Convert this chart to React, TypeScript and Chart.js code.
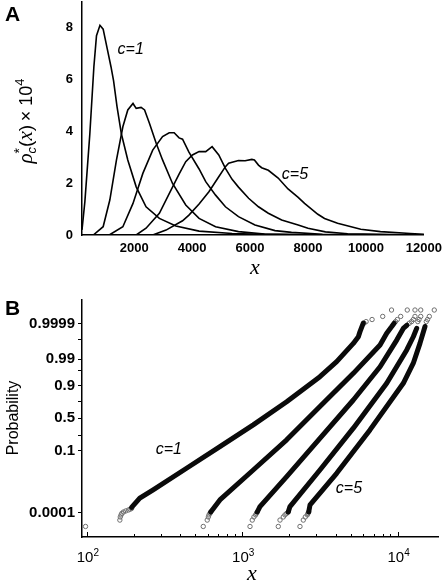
import React, { useEffect, useRef } from "react";
import { Chart, registerables } from "chart.js";

Chart.register(...registerables);

// ---------- Panel A: density curves rho*_c(x) x 10^4 ----------
const aXTicks = [2000, 4000, 6000, 8000, 10000, 12000];
const aYTicks = [0, 2, 4, 6, 8];

const c1X = [200, 300, 470, 610, 700, 820, 930, 1070, 1200, 1290, 1410, 1560, 1780, 2070, 2410, 2870, 3440, 4240, 5380, 6500, 8000, 10000, 12000];
const c1Y = [0.2, 1.3, 3.9, 6.5, 7.7, 8.1, 7.95, 7.2, 6.5, 5.95, 4.95, 3.9, 2.9, 1.86, 1.09, 0.64, 0.35, 0.15, 0.06, 0.03, 0.01, 0, 0];

const c2X = [590, 930, 1160, 1390, 1610, 1780, 1960, 2070, 2240, 2360, 2530, 2760, 2980, 3320, 3780, 4240, 4810, 5600, 6500, 8000, 12000];
const c2Y = [0, 0.32, 1.35, 2.9, 4.18, 4.83, 5.08, 4.89, 4.93, 4.83, 4.31, 3.54, 2.9, 2.0, 1.16, 0.64, 0.32, 0.13, 0.04, 0.01, 0];

const c3X = [1140, 1610, 1960, 2300, 2640, 2980, 3210, 3380, 3550, 3670, 3890, 4240, 4470, 4810, 5150, 5600, 6170, 6860, 7430, 8500, 12000];
const c3Y = [0, 0.32, 1.22, 2.38, 3.28, 3.8, 3.95, 3.95, 3.75, 3.7, 3.2, 2.55, 2.06, 1.54, 1.09, 0.71, 0.39, 0.17, 0.1, 0.03, 0];

const c4X = [2070, 2410, 2870, 3210, 3550, 3780, 4010, 4240, 4470, 4690, 4920, 5150, 5380, 5600, 5950, 6290, 6630, 7090, 7660, 8000, 8600, 9370, 12000];
const c4Y = [0, 0.26, 0.84, 1.6, 2.35, 2.83, 3.09, 3.22, 3.22, 3.41, 3.09, 2.57, 2.15, 1.85, 1.42, 1.09, 0.84, 0.58, 0.39, 0.26, 0.12, 0.05, 0];

const c5X = [2640, 3100, 3670, 3890, 4240, 4580, 4920, 5150, 5260, 5600, 5830, 6060, 6150, 6290, 6400, 6630, 6970, 7310, 7660, 7880, 8340, 8570, 9020, 9820, 10500, 11530, 12000];
const c5Y = [0, 0.19, 0.55, 0.77, 1.2, 1.67, 2.25, 2.64, 2.77, 2.88, 2.87, 2.92, 2.9, 2.7, 2.6, 2.5, 2.2, 1.78, 1.45, 1.22, 0.8, 0.64, 0.45, 0.22, 0.13, 0.06, 0.03];

// ---------- Panel B: probability plot (normal-probability y, log x) ----------
const bProbLabels = [0.0001, 0.1, 0.5, 0.9, 0.99, 0.9999];
const bProbMinor = [0.25, 0.75, 0.97, 0.999];
const bXTicks = [100, 1000, 10000];
const bXTickExp = ["2", "3", "4"];

const b1LineX = [194, 219, 267, 438, 718, 1177, 1932, 3162, 4053, 5188, 5590, 5728, 6012];
const b1LineP = [0.00022, 0.00082, 0.0024, 0.0244, 0.131, 0.397, 0.742, 0.9495, 0.9871, 0.99841, 0.99934, 0.99968, 0.99991];
const b1DotX = [98, 163, 164, 166, 168, 172, 178, 185, 190, 194, 6080, 6270, 6850, 8020, 9140];
const b1DotP = [0.00001, 0.00003, 0.00005, 0.00007, 0.00009, 0.00011, 0.00013, 0.00015, 0.00017, 0.00019, 0.99991, 0.99993, 0.99995, 0.99997, 0.99999];

const b2LineX = [627, 718, 1177, 1932, 3162, 5188, 7710, 8510, 9170, 9500];
const b2LineP = [0.00011, 0.00064, 0.0207, 0.198, 0.677, 0.9616, 0.99807, 0.9996, 0.99985, 0.99991];
const b2DotX = [561, 595, 605, 611, 620, 627, 9700, 9960, 10470, 11540];
const b2DotP = [0.00001, 0.00003, 0.00005, 0.00007, 0.00009, 0.00011, 0.99993, 0.99995, 0.99997, 0.99999];

const b3LineX = [1249, 1300, 1932, 3162, 5188, 7710, 9870, 10880, 11500];
const b3LineP = [0.00011, 0.00025, 0.0107, 0.215, 0.764, 0.9788, 0.99897, 0.9998, 0.99988];
const b3DotX = [1122, 1160, 1189, 1219, 1235, 1249, 11900, 12300, 12620, 12940, 12940];
const b3DotP = [0.00001, 0.00003, 0.00005, 0.00007, 0.00009, 0.00011, 0.99991, 0.99993, 0.99995, 0.99997, 0.99999];

const b4LineX = [1977, 2028, 3162, 5188, 8510, 11450, 12620, 13270];
const b4LineP = [0.00011, 0.00025, 0.0207, 0.348, 0.916, 0.99643, 0.99934, 0.9998];
const b4DotX = [1706, 1750, 1837, 1884, 1935, 1977, 13500, 13740, 14090, 14090];
const b4DotP = [0.00001, 0.00003, 0.00005, 0.00007, 0.00009, 0.00011, 0.99993, 0.99995, 0.99997, 0.99999];

const b5LineX = [2678, 2731, 4053, 6640, 10880, 12620, 13930, 15010];
const b5LineP = [0.00011, 0.00032, 0.015, 0.323, 0.916, 0.985, 0.99841, 0.99985];
const b5DotX = [2353, 2472, 2547, 2624, 2650, 2678, 15300, 15590, 16000, 17220];
const b5DotP = [0.00001, 0.00003, 0.00005, 0.00007, 0.00009, 0.00011, 0.99993, 0.99995, 0.99997, 0.99999];

// inverse standard normal CDF (Acklam)
function probit(p: number): number {
  const a = [-39.69683028665376, 220.9460984245205, -275.9285104469687, 138.357751867269, -30.66479806614716, 2.506628277459239];
  const b = [-54.47609879822406, 161.5858368580409, -155.6989798598866, 66.80131188771972, -13.28068155288572];
  const c = [-0.007784894002430293, -0.3223964580411365, -2.400758277161838, -2.549732539343734, 4.374664141464968, 2.938163982698783];
  const d = [0.007784695709041462, 0.3224671290700398, 2.445134137142996, 3.754408661907416];
  const pl = 0.02425;
  if (p < pl) {
    const q = Math.sqrt(-2 * Math.log(p));
    return (((((c[0] * q + c[1]) * q + c[2]) * q + c[3]) * q + c[4]) * q + c[5]) / ((((d[0] * q + d[1]) * q + d[2]) * q + d[3]) * q + 1);
  }
  if (p > 1 - pl) {
    const q = Math.sqrt(-2 * Math.log(1 - p));
    return -(((((c[0] * q + c[1]) * q + c[2]) * q + c[3]) * q + c[4]) * q + c[5]) / ((((d[0] * q + d[1]) * q + d[2]) * q + d[3]) * q + 1);
  }
  const q = p - 0.5;
  const r = q * q;
  return ((((((a[0] * r + a[1]) * r + a[2]) * r + a[3]) * r + a[4]) * r + a[5]) * q) / (((((b[0] * r + b[1]) * r + b[2]) * r + b[3]) * r + b[4]) * r + 1);
}

const SANS = '"Liberation Sans", Arial, sans-serif';
const SERIF = '"Liberation Serif", "Times New Roman", serif';

type Run = { text: string; font: string; dy?: number; stack?: boolean };

function drawRuns(ctx: CanvasRenderingContext2D, runs: Run[], cx: number, cy: number, rotated: boolean) {
  ctx.save();
  ctx.translate(cx, cy);
  if (rotated) ctx.rotate(-Math.PI / 2);
  ctx.fillStyle = "#000";
  ctx.textBaseline = "alphabetic";
  ctx.textAlign = "left";
  let total = 0;
  const widths = runs.map((r) => {
    ctx.font = r.font;
    const w = ctx.measureText(r.text).width;
    if (!r.stack) total += w;
    return w;
  });
  let x = -total / 2;
  runs.forEach((r, i) => {
    ctx.font = r.font;
    ctx.fillText(r.text, x, r.dy || 0);
    if (!r.stack) x += widths[i];
  });
  ctx.restore();
}

function drawText(ctx: CanvasRenderingContext2D, text: string, font: string, x: number, y: number, align: CanvasTextAlign = "center") {
  ctx.save();
  ctx.font = font;
  ctx.fillStyle = "#000";
  ctx.textAlign = align;
  ctx.textBaseline = "alphabetic";
  ctx.fillText(text, x, y);
  ctx.restore();
}

const lineA = (xs: number[], ys: number[]) => ({
  data: xs.map((x, i) => ({ x, y: ys[i] })),
  borderColor: "#000",
  borderWidth: 1.6,
  pointRadius: 0,
  tension: 0,
  fill: false,
});

const lineB = (xs: number[], ps: number[]) => ({
  data: xs.map((x, i) => ({ x, y: probit(ps[i]) })),
  borderColor: "#0a0a0a",
  borderWidth: 5,
  borderCapStyle: "round" as const,
  borderJoinStyle: "round" as const,
  pointRadius: 0,
  tension: 0,
  fill: false,
});

const dotsB = (xs: number[], ps: number[]) => ({
  data: xs.map((x, i) => ({ x, y: probit(ps[i]) })),
  showLine: false,
  pointRadius: 2.2,
  pointBorderWidth: 1,
  pointBorderColor: "#6e6e6e",
  pointBackgroundColor: "rgba(255,255,255,0)",
  borderColor: "#6e6e6e",
});

export default function App() {
  const refA = useRef<HTMLCanvasElement>(null);
  const refB = useRef<HTMLCanvasElement>(null);

  useEffect(() => {
    document.body.style.margin = "0";
    const axisTitleFont = `italic 22px ${SERIF}`;

    const plugA = {
      id: "decorA",
      afterDraw(chart: any) {
        const ctx = chart.ctx as CanvasRenderingContext2D;
        const xs = chart.scales.x;
        const ys = chart.scales.y;
        drawText(ctx, "A", `bold 21px ${SANS}`, 5, 21, "left");
        drawText(ctx, "x", axisTitleFont, 255, 274);
        drawText(ctx, "c=1", `italic 16px ${SANS}`, xs.getPixelForValue(1880), ys.getPixelForValue(6.98));
        drawText(ctx, "c=5", `italic 16px ${SANS}`, xs.getPixelForValue(7550), ys.getPixelForValue(2.17));
        drawRuns(
          ctx,
          [
            { text: "\u03C1", font: `italic 21px ${SERIF}` },
            { text: "*", font: `14px ${SANS}`, dy: -8, stack: true },
            { text: "c", font: `italic 13px ${SANS}`, dy: 4 },
            { text: "(", font: `19px ${SANS}` },
            { text: "x", font: `italic 21px ${SERIF}` },
            { text: ")", font: `19px ${SANS}` },
            { text: "\u2009\u00D7 10", font: `18px ${SANS}` },
            { text: "4", font: `13px ${SANS}`, dy: -8 },
          ],
          32,
          121,
          true
        );
      },
    };

    const chartA = new Chart(refA.current as HTMLCanvasElement, {
      type: "line",
      data: {
        datasets: [lineA(c1X, c1Y), lineA(c2X, c2Y), lineA(c3X, c3Y), lineA(c4X, c4Y), lineA(c5X, c5Y)] as any,
      },
      options: {
        responsive: false,
        animation: false,
        layout: { padding: { top: 2, right: 21, left: 0, bottom: 0 } },
        plugins: { legend: { display: false }, tooltip: { enabled: false } },
        scales: {
          x: {
            type: "linear",
            min: 200,
            max: 12000,
            afterBuildTicks: (s: any) => {
              s.ticks = aXTicks.map((v) => ({ value: v }));
            },
            afterFit: (s: any) => {
              s.height = 45;
            },
            grid: { display: false, drawTicks: false },
            border: { display: true, color: "#000", width: 1.5 },
            ticks: {
              color: "#000",
              font: { family: SANS, size: 13, weight: "bold" },
              padding: 6,
              maxRotation: 0,
              autoSkip: false,
              callback: (v: any) => String(v),
            },
          },
          y: {
            type: "linear",
            min: 0,
            max: 9,
            afterBuildTicks: (s: any) => {
              s.ticks = aYTicks.map((v) => ({ value: v }));
            },
            afterFit: (s: any) => {
              s.width = 82;
            },
            grid: { display: true, drawOnChartArea: false, drawTicks: true, tickLength: 9, color: "rgba(0,0,0,0)" },
            border: { display: true, color: "#000", width: 1.5 },
            ticks: {
              color: "#000",
              font: { family: SANS, size: 13, weight: "bold", lineHeight: 0.2 },
              padding: 0,
              autoSkip: false,
              callback: (v: any) => String(v),
            },
          },
        },
      } as any,
      plugins: [plugA],
    });

    const yAll = bProbLabels.concat(bProbMinor);
    const plugB = {
      id: "decorB",
      afterDraw(chart: any) {
        const ctx = chart.ctx as CanvasRenderingContext2D;
        const xs = chart.scales.x;
        const ys = chart.scales.y;
        const bottom = chart.chartArea.bottom;
        ctx.save();
        ctx.strokeStyle = "#000";
        ctx.lineWidth = 1;
        for (let k = 1; k <= 4; k++) {
          for (let m = 1; m <= 9; m++) {
            const v = m * Math.pow(10, k);
            if (v < xs.min || v > xs.max) continue;
            const px = Math.round(xs.getPixelForValue(v)) + 0.5;
            ctx.beginPath();
            ctx.moveTo(px, bottom);
            ctx.lineTo(px, bottom - (m === 1 ? 5 : 3));
            ctx.stroke();
          }
        }
        ctx.restore();
        // x tick labels 10^n with real superscripts
        bXTicks.forEach((v, i) => {
          const px = xs.getPixelForValue(v);
          drawRuns(
            ctx,
            [
              { text: "10", font: `15px ${SANS}` },
              { text: bXTickExp[i], font: `10px ${SANS}`, dy: -6 },
            ],
            px + 1,
            bottom + 24.5,
            false
          );
        });
        drawText(ctx, "B", `bold 21px ${SANS}`, 5, 35, "left");
        drawText(ctx, "x", axisTitleFont, 252, 300);
        drawText(ctx, "c=1", `italic 16px ${SANS}`, xs.getPixelForValue(337), ys.getPixelForValue(-1.17) + 6);
        drawText(ctx, "c=5", `italic 16px ${SANS}`, xs.getPixelForValue(4865), ys.getPixelForValue(-2.7) + 6);
        drawRuns(ctx, [{ text: "Probability", font: `16px ${SANS}` }], 18, 138, true);
      },
    };

    const chartB = new Chart(refB.current as HTMLCanvasElement, {
      type: "line",
      data: {
        datasets: [
          lineB(b1LineX, b1LineP),
          lineB(b2LineX, b2LineP),
          lineB(b3LineX, b3LineP),
          lineB(b4LineX, b4LineP),
          lineB(b5LineX, b5LineP),
          dotsB(b1DotX, b1DotP),
          dotsB(b2DotX, b2DotP),
          dotsB(b3DotX, b3DotP),
          dotsB(b4DotX, b4DotP),
          dotsB(b5DotX, b5DotP),
        ] as any,
      },
      options: {
        responsive: false,
        animation: false,
        layout: { padding: { top: 20, right: 10, left: 0, bottom: 0 } },
        plugins: { legend: { display: false }, tooltip: { enabled: false } },
        scales: {
          x: {
            type: "logarithmic",
            min: 93,
            max: 18200,
            afterBuildTicks: (s: any) => {
              s.ticks = bXTicks.map((v) => ({ value: v }));
            },
            afterFit: (s: any) => {
              s.height = 48;
            },
            grid: { display: false, drawTicks: false },
            border: { display: true, color: "#000", width: 1.5 },
            ticks: { display: false },
          },
          y: {
            type: "linear",
            min: -4.68,
            max: 4.66,
            afterBuildTicks: (s: any) => {
              s.ticks = yAll.map((p) => ({ value: probit(p) }));
            },
            afterFit: (s: any) => {
              s.width = 82;
            },
            grid: { display: true, drawOnChartArea: false, drawTicks: true, tickLength: 4, color: "#000", lineWidth: 1 },
            border: { display: true, color: "#000", width: 1.5 },
            ticks: {
              color: "#000",
              font: { family: SANS, size: 15, weight: "bold" },
              padding: 3,
              autoSkip: false,
              callback: (_v: any, i: number) => (i < bProbLabels.length ? String(bProbLabels[i]) : ""),
            },
          },
        },
      } as any,
      plugins: [plugB],
    });

    return () => {
      chartA.destroy();
      chartB.destroy();
    };
  }, []);

  return (
    <div style={{ position: "absolute", left: 0, top: 0, width: 448, height: 585, background: "#fff" }}>
      <canvas ref={refA} width={448} height={280} style={{ display: "block", width: 448, height: 280 }} />
      <canvas ref={refB} width={448} height={305} style={{ display: "block", width: 448, height: 305 }} />
    </div>
  );
}
